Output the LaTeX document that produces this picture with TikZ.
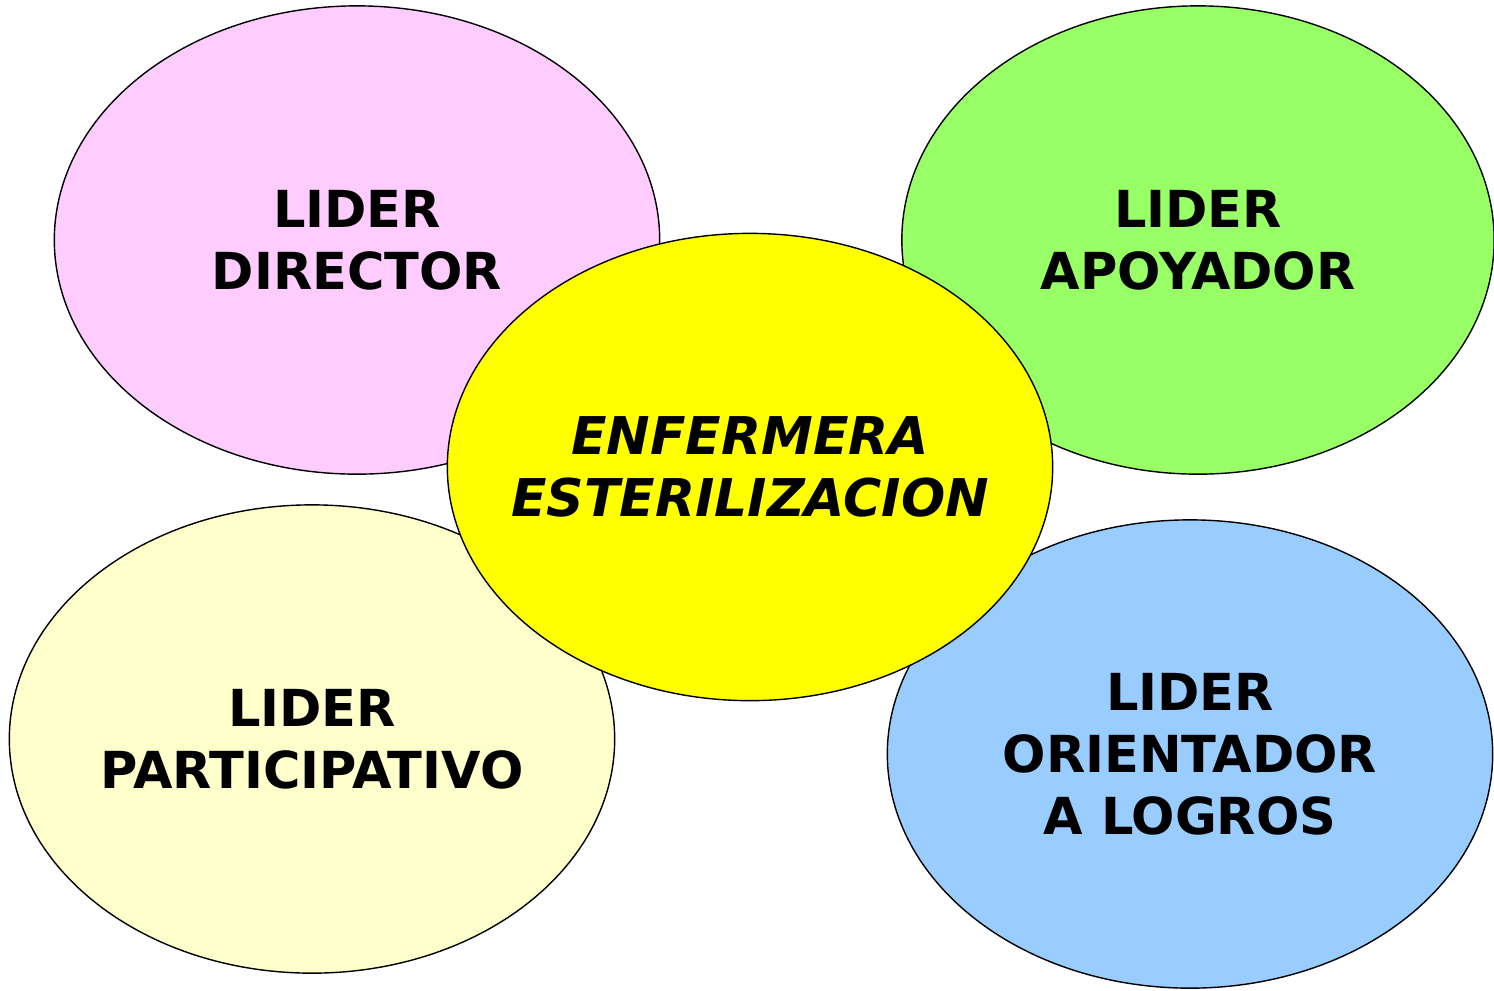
\documentclass[tikz,border=0pt]{standalone}
\usepackage{fontspec}
\setmainfont{DejaVu Sans}
\usepackage{xcolor}
\usepackage{tikz}
\usetikzlibrary{shapes.geometric,positioning}

\definecolor{rosa}{HTML}{FFCCFF}
\definecolor{verde}{HTML}{99FF66}
\definecolor{amarillo}{HTML}{FFFF00}
\definecolor{crema}{HTML}{FFFFCC}
\definecolor{celeste}{HTML}{99CCFF}

\begin{document}
\begin{tikzpicture}
  [x=0.01cm,y=-0.01cm,
  lider/.style={ellipse,draw=black,thin,inner sep=0pt,minimum width=6.05cm,minimum height=4.68cm,
    align=center,font=\fontsize{14.5}{17.6}\selectfont\bfseries},
  centro/.style={align=center,inner sep=0pt,font=\fontsize{14.8}{17.6}\selectfont\bfseries\itshape}
  ]
  \useasboundingbox (0,0) rectangle (1494,990);
  \node[lider,fill=rosa] (director) at (357,240) {LIDER\\DIRECTOR};
  \node[lider,fill=verde,minimum width=5.92cm] (apoyador) at (1198,240) {LIDER\\APOYADOR};
  \node[lider,fill=crema] (participativo) at (312,739) {LIDER\\PARTICIPATIVO};
  \node[lider,fill=celeste] (logros) at (1190,754) {LIDER\\ORIENTADOR\\A LOGROS};
  \node[lider,fill=amarillo,minimum height=4.67cm] (enfermera) at (750,467) {};
  \node[centro] (enfermera texto) at (enfermera.center) {ENFERMERA\\ESTERILIZACION};
\end{tikzpicture}
\end{document}
